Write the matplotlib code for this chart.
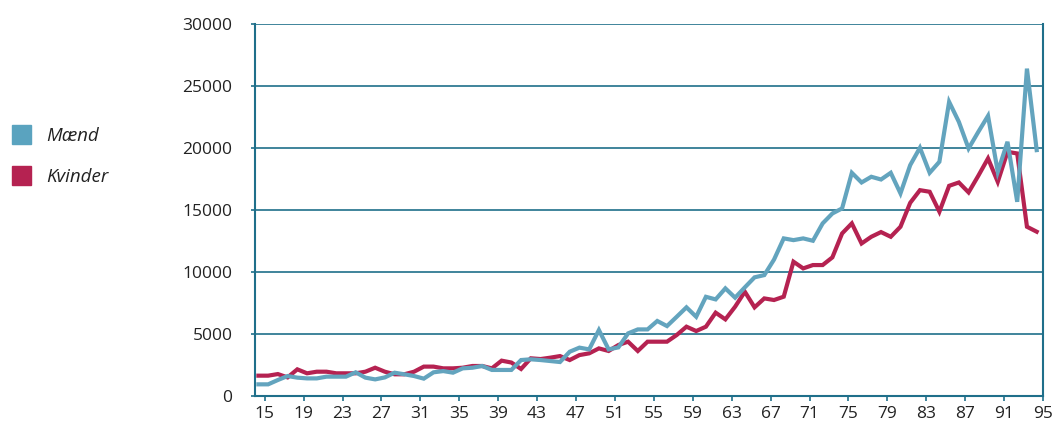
import numpy as np
import matplotlib
matplotlib.use("Agg")
import matplotlib.pyplot as plt
from matplotlib.patches import Rectangle

# alder 15..95
ages = np.arange(15, 96)

maend = [940, 940, 1290, 1610, 1480, 1420, 1420, 1560, 1560, 1560,
         1910, 1480, 1340, 1500, 1880, 1750, 1610, 1400, 1910, 2010,
         1880, 2230, 2280, 2420, 2100, 2100, 2100, 2900, 2960, 2900,
         2820, 2740, 3570, 3900, 3760, 5320, 3760, 3920, 5050, 5370,
         5370, 6050, 5640, 6390, 7150, 6390, 8000, 7790, 8680, 7930,
         8760, 9570, 9750, 11000, 12710, 12570, 12710, 12520, 13920, 14720,
         15130, 18000, 17220, 17680, 17460, 18000, 16340, 18620, 20020, 18000,
         18890, 23720, 22110, 19960, 21300, 22590, 18080, 20500, 15660, 26400,
         19830]

kvinder = [1640, 1640, 1770, 1500, 2150, 1830, 1960, 1960, 1830, 1830,
           1830, 1960, 2280, 1960, 1750, 1750, 1960, 2370, 2370, 2230,
           2230, 2280, 2420, 2420, 2230, 2850, 2700, 2180, 3040, 2980,
           3090, 3220, 2900, 3300, 3440, 3840, 3630, 4110, 4380, 3630,
           4380, 4380, 4380, 4920, 5590, 5240, 5590, 6720, 6180, 7200,
           8410, 7150, 7870, 7740, 8010, 10830, 10290, 10560, 10560, 11180,
           13110, 13920, 12300, 12840, 13220, 12840, 13650, 15580, 16600, 16470,
           14860, 16950, 17220, 16420, 17760, 19160, 17270, 19690, 19560, 13650,
           13250]

xticks = list(range(15, 96, 4))
yticks = list(range(0, 30001, 5000))

blue = '#63a4be'
red = '#b52251'
axcol = '#1f6f8a'

plt.rcParams['font.family'] = ['Open Sans', 'DejaVu Sans']

fig = plt.figure(figsize=(10.53, 4.23), dpi=100)
ax = fig.add_axes([255/1053, 1-396/423, (1043-255)/1053, (396-24)/423])

# punkterne ligger lidt til venstre for aldersmarkeringen
xpos = ages - 0.65
ax.plot(xpos, maend, color=blue, lw=3, solid_joinstyle='miter', zorder=3)
ax.plot(xpos, kvinder, color=red, lw=3, solid_joinstyle='miter', zorder=2)

ax.set_xlim(14, 95)
ax.set_ylim(0, 30000)
ax.set_xticks(xticks)
ax.set_yticks(yticks)
ax.set_xticklabels([str(t) for t in xticks])
ax.set_yticklabels([str(t) for t in yticks])

ax.grid(axis='y', color=axcol, lw=1.2)
ax.set_axisbelow(True)
ax.spines['top'].set_visible(False)
for s in ['left', 'right', 'bottom']:
    ax.spines[s].set_color(axcol)
    ax.spines[s].set_linewidth(1.5)
ax.tick_params(axis='y', length=3.2, width=1.2, color=axcol, pad=13,
               labelsize=12.5, labelcolor='#222222')
ax.tick_params(axis='x', length=3.6, width=1.2, color=axcol, pad=3.5,
               labelsize=12.5, labelcolor='#222222')

# signatur
fig.patches.append(Rectangle((12/1053, 1-144/423), 19/1053, 19/423,
                             transform=fig.transFigure, color='#5aa3bf'))
fig.patches.append(Rectangle((12/1053, 1-185/423), 19/1053, 19/423,
                             transform=fig.transFigure, color=red))
fig.text(46/1053, 1-136/423, 'Mænd', style='italic', fontsize=13.5,
         va='center', ha='left', color='#222222')
fig.text(46/1053, 1-177/423, 'Kvinder', style='italic', fontsize=13.5,
         va='center', ha='left', color='#222222')

fig.savefig('out.png', dpi=100)
